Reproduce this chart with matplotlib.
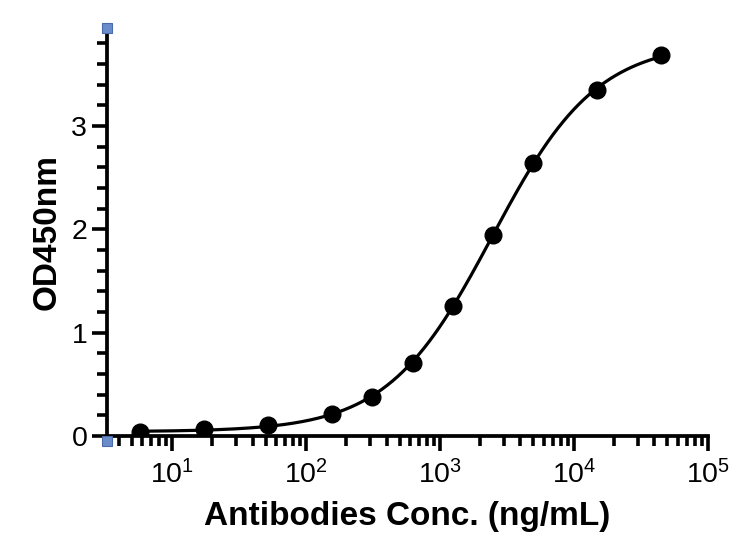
import numpy as np
import matplotlib
matplotlib.use("Agg")
import matplotlib.pyplot as plt
from matplotlib.ticker import LogLocator, FixedLocator, FuncFormatter, MultipleLocator

# ---- data ----
conc = [5.8, 17.4, 52, 156, 312.5, 625, 1250, 2500, 5000, 15000, 45000]
od = [0.04, 0.065, 0.105, 0.21, 0.38, 0.71, 1.26, 1.95, 2.64, 3.35, 3.69]
y_ticks = [0, 1, 2, 3]
x_decades = [1, 2, 3, 4, 5]

plt.rcParams['font.family'] = ['Liberation Sans', 'DejaVu Sans']
plt.rcParams['mathtext.fontset'] = 'custom'
plt.rcParams['mathtext.rm'] = 'Liberation Sans'

# ---- 4PL fit (grid search over b, c; linear LS for bottom/top) ----
x = np.array(conc, float)
y = np.array(od, float)
lx = np.log10(x)
logc = np.linspace(2.5, 4.5, 401)
bs = np.linspace(0.5, 2.5, 401)
best = None
for b in bs:
    g = 1.0 / (1.0 + 10 ** (b * (lx[None, :] - logc[:, None])))
    G1 = g
    G2 = 1 - g
    s11 = (G1 * G1).sum(1); s12 = (G1 * G2).sum(1); s22 = (G2 * G2).sum(1)
    r1 = (G1 * y).sum(1); r2 = (G2 * y).sum(1)
    det = s11 * s22 - s12 ** 2
    a = (r1 * s22 - r2 * s12) / det
    d = (s11 * r2 - s12 * r1) / det
    pred = a[:, None] * G1 + d[:, None] * G2
    sse = ((pred - y) ** 2).sum(1)
    i = np.argmin(sse)
    if best is None or sse[i] < best[0]:
        best = (sse[i], a[i], d[i], logc[i], b)
_, A, D, LC, B = best
xf = np.logspace(lx.min(), lx.max(), 400)
yf = D + (A - D) / (1 + 10 ** (B * (np.log10(xf) - LC)))

# ---- figure ----
fig = plt.figure(figsize=(7.41, 5.51), dpi=100)
ax = fig.add_axes([0.144, 0.2087, 0.811, 0.7405])
ax.plot(xf, yf, color='black', lw=2.3, zorder=2)
ax.plot(conc, od, 'o', color='black', ms=12, zorder=3)

ax.set_xscale('log')
ax.set_xlim(3.25, 1e5)
ax.set_ylim(0, 3.95)

for s in ['top', 'right']:
    ax.spines[s].set_visible(False)
for s in ['left', 'bottom']:
    ax.spines[s].set_linewidth(2.7)

ax.xaxis.set_major_locator(FixedLocator([10.0 ** k for k in x_decades]))
ax.xaxis.set_minor_locator(LogLocator(base=10, subs=np.arange(2, 10), numticks=20))
ax.xaxis.set_major_formatter(FuncFormatter(lambda v, p: r'$\mathregular{10^{%d}}$' % round(np.log10(v))))
ax.xaxis.set_minor_formatter(FuncFormatter(lambda v, p: ''))
ax.yaxis.set_major_locator(FixedLocator(y_ticks))
ax.yaxis.set_minor_locator(MultipleLocator(0.2))

ax.tick_params(axis='both', which='major', direction='out', length=11, width=2.6,
               labelsize=20.5, colors='black')
ax.tick_params(axis='both', which='minor', direction='out', length=7, width=2.6)
ax.tick_params(axis='x', which='major', pad=6)
ax.tick_params(axis='y', which='major', pad=3)

ax.set_xlabel('Antibodies Conc. (ng/mL)', fontsize=24, fontweight='bold', labelpad=9)
ax.set_ylabel('OD450nm', fontsize=24, fontweight='bold', labelpad=6)

# small blue handle squares at the axis ends
for yy in (1.0, -0.012):
    ax.plot([0], [yy], marker='s', ms=7, color='#6b8cca', mec='#4a6aa8', mew=0.8,
            transform=ax.transAxes, clip_on=False, zorder=5)

fig.savefig('out.png', dpi=100)
